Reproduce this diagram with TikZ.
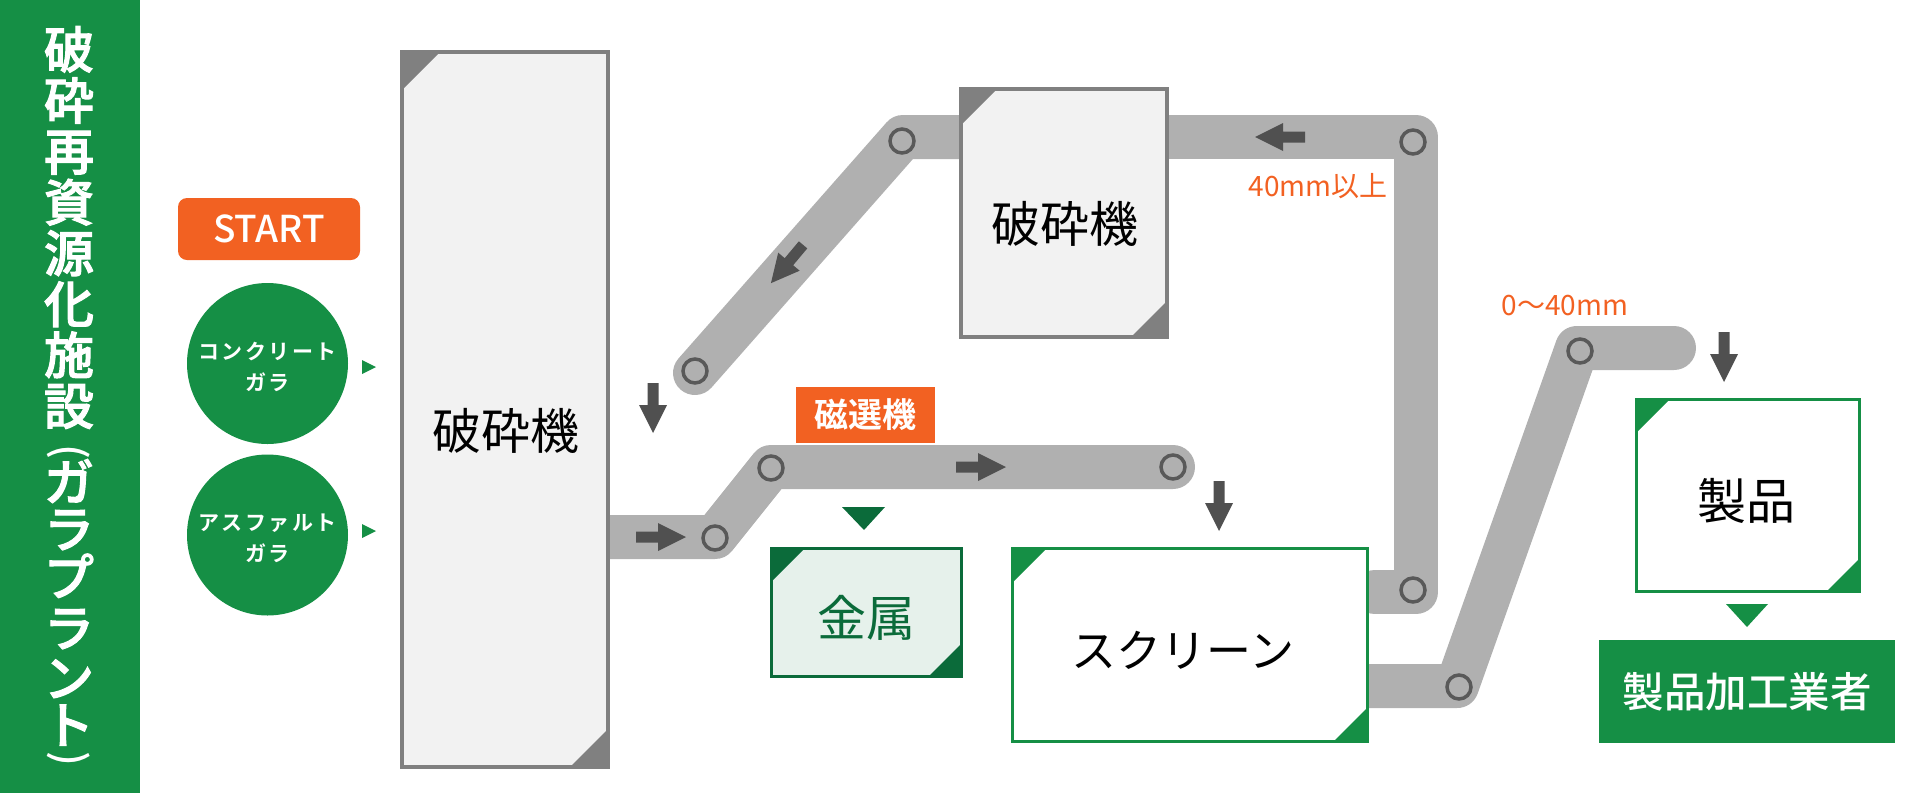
\documentclass[tikz,border=0pt]{standalone}
\usepackage{fontspec}
\usepackage{graphicx}
\setmainfont{Noto Sans CJK JP}
\newfontfamily\spacedjp[LetterSpace=12]{Noto Sans CJK JP Bold}
\newfontfamily\sidefont[FakeBold=2]{Noto Sans CJK JP Medium}
\newfontfamily\medfont{Noto Sans CJK JP Medium}
\newfontfamily\heavyfont{Noto Sans CJK JP Bold}
\newfontfamily\parenfont{Noto Sans CJK JP}
\newfontfamily\lightfont{Noto Sans CJK JP}
\definecolor{sidegreen}{HTML}{158F45}
\definecolor{darkgreen}{HTML}{0B6B3A}
\definecolor{palegreen}{HTML}{E6F1EB}
\definecolor{startorange}{HTML}{F26122}
\definecolor{beltgrey}{HTML}{B0B0B0}
\definecolor{ringgrey}{HTML}{595959}
\definecolor{arrowgrey}{HTML}{505050}
\definecolor{boxgrey}{HTML}{808080}
\definecolor{boxfill}{HTML}{F2F2F2}
\newcommand{\fsz}[1]{\fontsize{#1}{#1}\selectfont}
\newcommand{\blockarr}[3]{\fill[arrowgrey,shift={(#1,#2)},rotate=#3] (-25,-5.5) -- (-3,-5.5) -- (-3,-14) -- (25,0) -- (-3,14) -- (-3,5.5) -- (-25,5.5) -- cycle;}
\newcommand{\vparen}[1]{\smash{\raisebox{0.1em}{\medfont\rotatebox[origin=c]{-90}{\fsz{42}#1}}}}
\tikzset{
  cbox/.style n args={4}{draw=#1,line width=#3,fill=#2,inner sep=0pt,
    path picture={
      \fill[#1] (path picture bounding box.north west) -- ++(#4,0) -- ++(-#4,#4) -- cycle;
      \fill[#1] (path picture bounding box.south east) -- ++(-#4,0) -- ++(#4,-#4) -- cycle;
    }},
  belt/.style={draw=beltgrey,line width=44pt,line cap=round,line join=round},
  pulley/.style={circle,draw=ringgrey,fill=beltgrey,line width=3.5pt,minimum size=24pt,inner sep=0pt},
  ball/.style={circle,fill=sidegreen,minimum size=161pt,inner sep=0pt,text=white,align=center},
  bigtext/.style={font=\fsz{49}\lightfont,inner sep=0pt},
  redtext/.style={font=\fsz{28},text=startorange,inner sep=0pt},
  marktri/.style={fill=sidegreen},
}
\begin{document}
\begin{tikzpicture}[x=1pt,y=-1pt]
\useasboundingbox (0,0) rectangle (1920,793);
% sidebar
\fill[sidegreen] (0,0) rectangle (140,793);
\node[inner sep=0pt,text=white,anchor=north,align=center,font=\fsz{50}\sidefont] (title) at (69,26)
 {破\\[0.9pt]砕\\[0.9pt]再\\[0.9pt]資\\[0.9pt]源\\[0.9pt]化\\[0.9pt]施\\[0.9pt]設\\[-5pt]\vparen{(}\\[-19pt]ガ\\[-3pt]ラ\\[-2pt]プ\\[1pt]ラ\\[0pt]ン\\[-3pt]ト\\[-17pt]\vparen{)}};
% start
\node[fill=startorange,rounded corners=9pt,minimum width=182pt,minimum height=62pt,inner sep=0pt,text=white,font=\fsz{37}\medfont] (start) at (269,229) {START};
\node[ball] (c1) at (267.5,363.5) {};
\node[inner sep=0pt,text=white,align=center,font=\fsz{21}\spacedjp] (c1t) at (267.5,367) {コンクリート\\[10pt]ガラ};
\node[ball] (c2) at (267.5,535) {};
\node[inner sep=0pt,text=white,align=center,font=\fsz{21}\spacedjp] (c2t) at (267.5,538) {アスファルト\\[10pt]ガラ};
\fill[marktri] (362,360) -- (376,367) -- (362,374) -- cycle;
\fill[marktri] (362,524) -- (376,531) -- (362,538) -- cycle;
% belt waypoints
\coordinate (a0) at (600,537);
\coordinate (a1) at (715,537);
\coordinate (a2) at (771,467);
\coordinate (a3) at (1173,467);
\coordinate (b0) at (1375,592);
\coordinate (b1) at (1416,592);
\coordinate (b2) at (1416,137);
\coordinate (b3) at (1160,137);
\coordinate (d1) at (965,137);
\coordinate (d2) at (903,137);
\coordinate (d3) at (695,373);
\coordinate (e0) at (1360,686);
\coordinate (e1) at (1457,686);
\coordinate (e2) at (1577,348);
\coordinate (e3) at (1674,348);
\draw[belt] (a0) -- (a1) -- (a2) -- (a3);
\draw[belt] (b0) -- (b1) -- (b2) -- (b3);
\draw[belt] (d1) -- (d2) -- (d3);
\draw[belt] (e0) -- (e1) -- (e2) -- (e3);
% pulleys
\node[pulley] (p1) at (715,538) {};
\node[pulley] (p2) at (771,468) {};
\node[pulley] (p3) at (1173,467) {};
\node[pulley] (p4) at (1413,590) {};
\node[pulley] (p5) at (1413,142) {};
\node[pulley] (p6) at (902,141) {};
\node[pulley] (p7) at (695,371) {};
\node[pulley] (p8) at (1459,687) {};
\node[pulley] (p9) at (1580,351) {};
% boxes
\node[cbox={boxgrey}{boxfill}{4pt}{38},minimum width=206pt,minimum height=715pt] (crusherA) at (505,409.5) {};
\node[bigtext] (crusherAt) at (506,431) {破砕機};
\node[cbox={boxgrey}{boxfill}{4pt}{36},minimum width=206pt,minimum height=248pt] (crusherB) at (1064,213) {};
\node[bigtext] (crusherBt) at (1065,224) {破砕機};
\node[cbox={darkgreen}{palegreen}{3pt}{33},minimum width=190pt,minimum height=128pt] (metal) at (866.5,612.5) {};
\node[bigtext,text=darkgreen] (metalt) at (866,618) {金属};
\node[cbox={sidegreen}{white}{3pt}{34},minimum width=355pt,minimum height=193pt] (screen) at (1190,645) {};
\node[bigtext,font=\fsz{45}\lightfont] (screent) at (1183,650) {スクリーン};
\node[cbox={sidegreen}{white}{3pt}{33},minimum width=223pt,minimum height=192pt] (product) at (1748,495.5) {};
\node[bigtext] (productt) at (1746,501) {製品};
\node[fill=sidegreen,minimum width=296pt,minimum height=103pt,inner sep=0pt,text=white,font=\fsz{41.5}\medfont] (maker) at (1747,691.5) {製品加工業者};
\node[fill=startorange,minimum width=139pt,minimum height=56pt,inner sep=0pt,text=white,font=\fsz{34}\heavyfont] (magnet) at (865.5,415) {磁選機};
% labels
\node[redtext] (over) at (1318,186) {40mm以上};
\node[redtext] (under) at (1565,306) {0～40mm};
% arrows
\blockarr{661}{537}{0}
\blockarr{981}{467}{0}
\blockarr{1280}{137}{180}
\blockarr{787}{264}{-130}
\blockarr{653}{408}{-90}
\blockarr{1219}{506}{-90}
\blockarr{1724}{357}{-90}
% green markers
\fill[darkgreen] (842,507) -- (885,507) -- (864,530) -- cycle;
\fill[sidegreen] (1726,604) -- (1768,604) -- (1747,627) -- cycle;
\end{tikzpicture}
\end{document}
